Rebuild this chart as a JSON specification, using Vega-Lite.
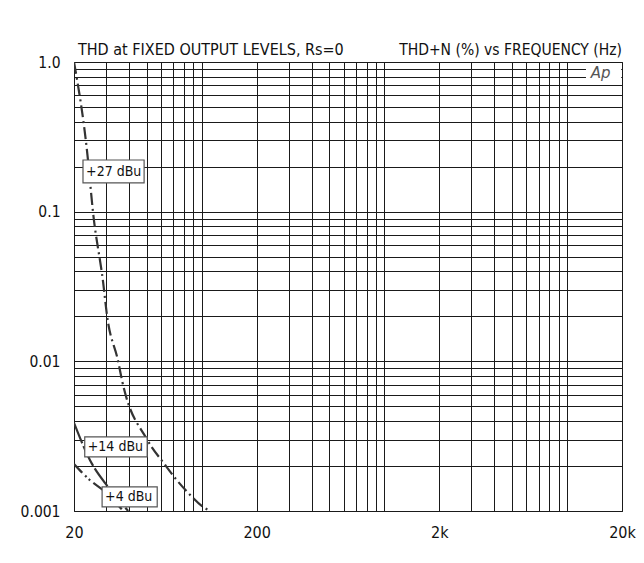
{
  "$schema": "https://vega.github.io/schema/vega-lite/v6.json",
  "width": 548,
  "height": 449,
  "autosize": "none",
  "padding": {"left": 74, "top": 62, "right": 22, "bottom": 52},
  "background": "white",
  "config": {
    "font": "DejaVu Sans Condensed",
    "view": {"stroke": "#111", "strokeWidth": 1},
    "axis": {"gridColor": "#1a1a1a", "gridWidth": 1, "gridOpacity": 1}
  },
  "datasets": {
    "curves": [
      {"series": "+27 dBu", "f": 20, "thd": 1.0},
      {"series": "+27 dBu", "f": 23.7, "thd": 0.239},
      {"series": "+27 dBu", "f": 25.4, "thd": 0.1},
      {"series": "+27 dBu", "f": 28.9, "thd": 0.0334},
      {"series": "+27 dBu", "f": 30.3, "thd": 0.0204},
      {"series": "+27 dBu", "f": 34.9, "thd": 0.01},
      {"series": "+27 dBu", "f": 36.6, "thd": 0.0075},
      {"series": "+27 dBu", "f": 50.3, "thd": 0.003},
      {"series": "+27 dBu", "f": 63.1, "thd": 0.00203},
      {"series": "+27 dBu", "f": 73, "thd": 0.00161},
      {"series": "+27 dBu", "f": 84.4, "thd": 0.00132},
      {"series": "+27 dBu", "f": 102.4, "thd": 0.00106},
      {"series": "+27 dBu", "f": 111.4, "thd": 0.001},
      {"series": "+14 dBu", "f": 20, "thd": 0.00388},
      {"series": "+14 dBu", "f": 24.4, "thd": 0.0022},
      {"series": "+14 dBu", "f": 30.7, "thd": 0.00145},
      {"series": "+14 dBu", "f": 39.6, "thd": 0.001},
      {"series": "+4 dBu", "f": 20, "thd": 0.00206},
      {"series": "+4 dBu", "f": 24.4, "thd": 0.00161},
      {"series": "+4 dBu", "f": 29.6, "thd": 0.00134},
      {"series": "+4 dBu", "f": 37.2, "thd": 0.001}
    ],
    "labels": [
      {"label": "+27 dBu", "fx": 23.3, "ty": 0.1855, "bx": 22.4, "bx2": 48.4, "by": 0.2214, "by2": 0.1555},
      {"label": "+14 dBu", "fx": 23.8, "ty": 0.00268, "bx": 22.9, "bx2": 50.3, "by": 0.003126, "by2": 0.002298},
      {"label": "+4 dBu", "fx": 29.6, "ty": 0.00124, "bx": 28.5, "bx2": 57.1, "by": 0.001449, "by2": 0.001065}
    ],
    "logo": [
      {"text": "Ap", "fx": 13500, "ty": 0.844, "bx": 12700, "bx2": 19800, "by": 0.985, "by2": 0.724}
    ],
    "headers": [
      {"text": "THD at FIXED OUTPUT LEVELS, Rs=0", "f": 20, "v": 1, "side": "left"},
      {"text": "THD+N (%) vs FREQUENCY (Hz)", "f": 20000, "v": 1, "side": "right"}
    ]
  },
  "resolve": {"axis": {"x": "independent", "y": "independent"}},
  "layer": [
    {
      "data": {"name": "curves"},
      "mark": {"type": "line", "interpolate": "monotone", "clip": true, "strokeWidth": 2.2, "color": "#333"},
      "encoding": {
        "x": {
          "field": "f", "type": "quantitative",
          "scale": {"type": "log", "domain": [20, 20000], "nice": false},
          "axis": {
            "title": null,
            "values": [20, 30, 40, 50, 60, 70, 80, 90, 100, 200, 300, 400, 500, 600, 700, 800, 900, 1000, 2000, 3000, 4000, 5000, 6000, 7000, 8000, 9000, 10000, 20000],
            "labelExpr": "datum.value == 20 ? '20' : datum.value == 200 ? '200' : datum.value == 2000 ? '2k' : datum.value == 20000 ? '20k' : ''",
            "labelOverlap": false,
            "labelFlush": false,
            "ticks": false,
            "domain": false,
            "labelPadding": 13,
            "labelFontSize": 16,
            "labelColor": "#111",
            "labelFont": "DejaVu Sans Condensed"
          }
        },
        "y": {
          "field": "thd", "type": "quantitative",
          "scale": {"type": "log", "domain": [0.001, 1], "nice": false},
          "axis": {
            "title": null,
            "values": [0.001, 0.002, 0.003, 0.004, 0.005, 0.006, 0.007, 0.008, 0.009, 0.01, 0.02, 0.03, 0.04, 0.05, 0.06, 0.07, 0.08, 0.09, 0.1, 0.2, 0.3, 0.4, 0.5, 0.6, 0.7, 0.8, 0.9, 1],
            "labelExpr": "datum.value == 1 ? '1.0' : datum.value == 0.1 ? '0.1' : datum.value == 0.01 ? '0.01' : datum.value == 0.001 ? '0.001' : ''",
            "labelOverlap": false,
            "labelFlush": false,
            "ticks": false,
            "domain": false,
            "labelPadding": 14,
            "labelFontSize": 15.5,
            "labelColor": "#111",
            "labelFont": "DejaVu Sans Condensed"
          }
        },
        "detail": {"field": "series"},
        "strokeDash": {
          "field": "series", "type": "nominal", "legend": null,
          "scale": {"domain": ["+27 dBu", "+14 dBu", "+4 dBu"], "range": [[12, 4, 2, 4], [22, 3], [12, 4, 2, 3, 2, 4]]}
        }
      }
    },
    {
      "data": {"name": "labels"},
      "mark": {"type": "rect", "fill": "white", "stroke": "#555", "strokeWidth": 1.2},
      "encoding": {
        "x": {"field": "bx", "type": "quantitative", "axis": null},
        "x2": {"field": "bx2"},
        "y": {"field": "by", "type": "quantitative", "axis": null},
        "y2": {"field": "by2"}
      }
    },
    {
      "data": {"name": "labels"},
      "mark": {"type": "text", "align": "left", "baseline": "middle", "fontSize": 14, "font": "DejaVu Sans Condensed", "color": "#111"},
      "encoding": {
        "x": {"field": "fx", "type": "quantitative", "axis": null},
        "y": {"field": "ty", "type": "quantitative", "axis": null},
        "text": {"field": "label"}
      }
    },
    {
      "data": {"name": "logo"},
      "mark": {"type": "rect", "fill": "white", "stroke": null},
      "encoding": {
        "x": {"field": "bx", "type": "quantitative", "axis": null},
        "x2": {"field": "bx2"},
        "y": {"field": "by", "type": "quantitative", "axis": null},
        "y2": {"field": "by2"}
      }
    },
    {
      "data": {"name": "logo"},
      "mark": {"type": "text", "align": "left", "baseline": "middle", "fontSize": 15, "fontStyle": "italic", "font": "DejaVu Sans", "color": "#555"},
      "encoding": {
        "x": {"field": "fx", "type": "quantitative", "axis": null},
        "y": {"field": "ty", "type": "quantitative", "axis": null},
        "text": {"field": "text"}
      }
    },
    {
      "data": {"name": "headers"},
      "transform": [{"filter": "datum.side == 'left'"}],
      "mark": {"type": "text", "align": "left", "baseline": "alphabetic", "dx": 4, "dy": -7, "clip": false, "fontSize": 16, "font": "DejaVu Sans Condensed", "color": "#111"},
      "encoding": {
        "x": {"field": "f", "type": "quantitative", "axis": null},
        "y": {"field": "v", "type": "quantitative", "axis": null},
        "text": {"field": "text"}
      }
    },
    {
      "data": {"name": "headers"},
      "transform": [{"filter": "datum.side == 'right'"}],
      "mark": {"type": "text", "align": "right", "baseline": "alphabetic", "dy": -7, "clip": false, "fontSize": 15.5, "font": "DejaVu Sans Condensed", "color": "#111"},
      "encoding": {
        "x": {"field": "f", "type": "quantitative", "axis": null},
        "y": {"field": "v", "type": "quantitative", "axis": null},
        "text": {"field": "text"}
      }
    }
  ]
}
